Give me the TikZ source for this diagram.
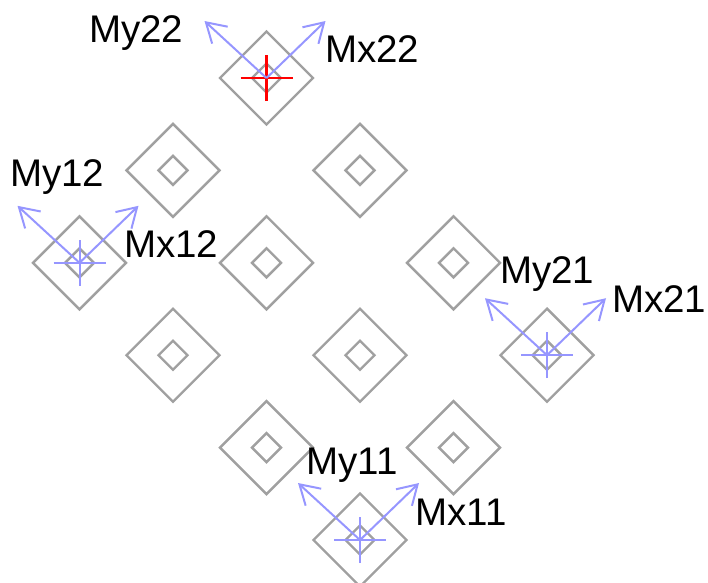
\documentclass[tikz,border=0pt]{standalone}
\usepackage{fontspec}
\setmainfont{Liberation Sans}
\usetikzlibrary{shapes.geometric, arrows.meta, positioning, calc}
\definecolor{cellgray}{RGB}{160,160,160}
\definecolor{vecblue}{RGB}{150,150,255}
\begin{document}
\begin{tikzpicture}[
  x=1pt,y=-1pt,
  core/.style={diamond,draw=cellgray,line width=2.4pt,inner sep=0pt,minimum size=30pt},
  cell/.style={diamond,draw=cellgray,line width=2.4pt,inner sep=0pt,minimum size=94pt,label={[core]center:}},
  vec/.style={-{Straight Barb[length=19pt,width=23pt]},line width=2pt,vecblue},
  bluetick/.style={line width=2pt,vecblue},
  redtick/.style={line width=2.2pt,red},
  lbl/.style={anchor=base west,inner sep=0pt,font=\fontsize{38.5}{41}\selectfont}
]
  \useasboundingbox (0,0) rectangle (708,582);
  % grid of cells
  \node[cell](n00) at (360,540) {};
  \node[cell](n01) at (266.5,447.6) {};
  \node[cell](n02) at (173,355.2) {};
  \node[cell](n03) at (79.5,262.8) {};
  \node[cell](n10) at (453.5,447.6) {};
  \node[cell](n11) at (360,355.2) {};
  \node[cell](n12) at (266.5,262.8) {};
  \node[cell](n13) at (173,170.4) {};
  \node[cell](n20) at (547,355.2) {};
  \node[cell](n21) at (453.5,262.8) {};
  \node[cell](n22) at (360,170.4) {};
  \node[cell](n23) at (266.5,78) {};
  % arrow ends
  \coordinate (mx11) at ([shift={(59pt,57pt)}]n00.center);
  \coordinate (my11) at ([shift={(-62pt,57pt)}]n00.center);
  \coordinate (mx12) at ([shift={(59pt,57pt)}]n03.center);
  \coordinate (my12) at ([shift={(-62pt,57pt)}]n03.center);
  \coordinate (mx21) at ([shift={(59pt,57pt)}]n20.center);
  \coordinate (my21) at ([shift={(-62pt,57pt)}]n20.center);
  \coordinate (mx22) at ([shift={(59pt,57pt)}]n23.center);
  \coordinate (my22) at ([shift={(-62pt,57pt)}]n23.center);
  % crosses
  \draw[bluetick]([xshift=-26pt]n00.center)--([xshift=26pt]n00.center);
  \draw[bluetick]([yshift=-23pt]n00.center)--([yshift=23pt]n00.center);
  \draw[bluetick]([xshift=-26pt]n03.center)--([xshift=26pt]n03.center);
  \draw[bluetick]([yshift=-23pt]n03.center)--([yshift=23pt]n03.center);
  \draw[bluetick]([xshift=-26pt]n20.center)--([xshift=26pt]n20.center);
  \draw[bluetick]([yshift=-23pt]n20.center)--([yshift=23pt]n20.center);
  \draw[redtick]([xshift=-26pt]n23.center)--([xshift=26pt]n23.center);
  \draw[redtick]([yshift=-23pt]n23.center)--([yshift=23pt]n23.center);
  % vectors
  \draw[vec](n00.center)--(mx11);
  \draw[vec](n00.center)--(my11);
  \draw[vec](n03.center)--(mx12);
  \draw[vec](n03.center)--(my12);
  \draw[vec](n20.center)--(mx21);
  \draw[vec](n20.center)--(my21);
  \draw[vec](n23.center)--(mx22);
  \draw[vec](n23.center)--(my22);
  % labels
  \node[lbl](tmy22) at (89,42) {My22};
  \node[lbl](tmx22) at (325,62) {Mx22};
  \node[lbl](tmy12) at (10,186) {My12};
  \node[lbl](tmx12) at (124,257) {Mx12};
  \node[lbl](tmy21) at (500,283) {My21};
  \node[lbl](tmx21) at (612,312) {Mx21};
  \node[lbl](tmy11) at (306,474) {My11};
  \node[lbl](tmx11) at (415,525) {Mx11};
\end{tikzpicture}
\end{document}
